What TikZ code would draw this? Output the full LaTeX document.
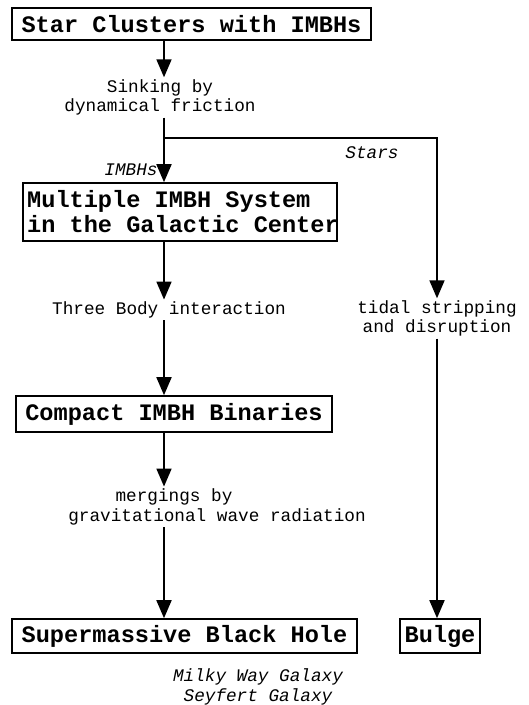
\documentclass[tikz,border=0pt]{standalone}
\usepackage{fontspec}
\setmonofont{Liberation Mono}
\usetikzlibrary{arrows.meta}

\begin{document}
\begin{tikzpicture}[x=1pt,y=-1pt,
  bfont/.style={inner sep=0pt,font=\ttfamily\bfseries\fontsize{23.6}{28}\selectfont},
  box/.style={bfont,draw,line width=1.6pt},
  lbl/.style={inner sep=2pt,align=center,font=\ttfamily\fontsize{17.7}{19.5}\selectfont},
  ilbl/.style={lbl,font=\ttfamily\itshape\fontsize{17.7}{19.5}\selectfont},
  flow/.style={line width=1.8pt,-{Triangle[width=15pt,length=18pt]}},
  plain/.style={line width=1.8pt}]
\useasboundingbox (0,0) rectangle (529,705);

% boxes
\node[box,minimum width=359pt,minimum height=32pt] (sc) at (191.5,24) {Star Clusters with IMBHs};
\node[box,minimum width=314pt,minimum height=58pt] (mult) at (180,212) {};
\node[bfont,anchor=base west] (mult1) at (27,207) {Multiple IMBH System};
\node[bfont,anchor=base west] (mult2) at (27,232) {in the Galactic Center};
\node[box,minimum width=316pt,minimum height=36pt] (comp) at (174,414) {Compact IMBH Binaries};
\node[box,minimum width=345pt,minimum height=34pt] (smbh) at (184.5,636) {Supermassive Black Hole};
\node[box,minimum width=80pt,minimum height=34pt] (bulge) at (440,636) {Bulge};

% labels
\node[lbl] (sink) at (160,97.5) {Sinking by\\dynamical friction};
\node[ilbl] (stars) at (372,153) {Stars};
\node[ilbl] (imbhs) at (131,170) {IMBHs};
\node[lbl] (three) at (169,310) {Three Body interaction};
\node[lbl] (tidal) at (437,318.5) {tidal stripping\\and disruption};
\node[lbl] (merge1) at (174,497) {mergings by};
\node[lbl] (merge2) at (217,517) {gravitational wave radiation};
\node[ilbl] (milky) at (258,687) {Milky Way Galaxy\\Seyfert Galaxy};

\coordinate (fork) at (164,138);

% arrows
\draw[flow] (sc.south -| fork) -- (sink.north -| fork);
\draw[flow] (sink.south -| fork) -- (mult.north -| fork);
\draw[flow] (fork) -| (tidal.north);
\draw[flow] (mult.south -| fork) -- (three.north -| fork);
\draw[flow] (three.south -| fork) -- (comp.north -| fork);
\draw[flow] (comp.south -| fork) -- (merge1.north -| fork);
\draw[flow] (merge2.south -| fork) -- (smbh.north -| fork);
\draw[flow] (tidal.south) -- (bulge.north -| tidal.south);

\end{tikzpicture}
\end{document}
